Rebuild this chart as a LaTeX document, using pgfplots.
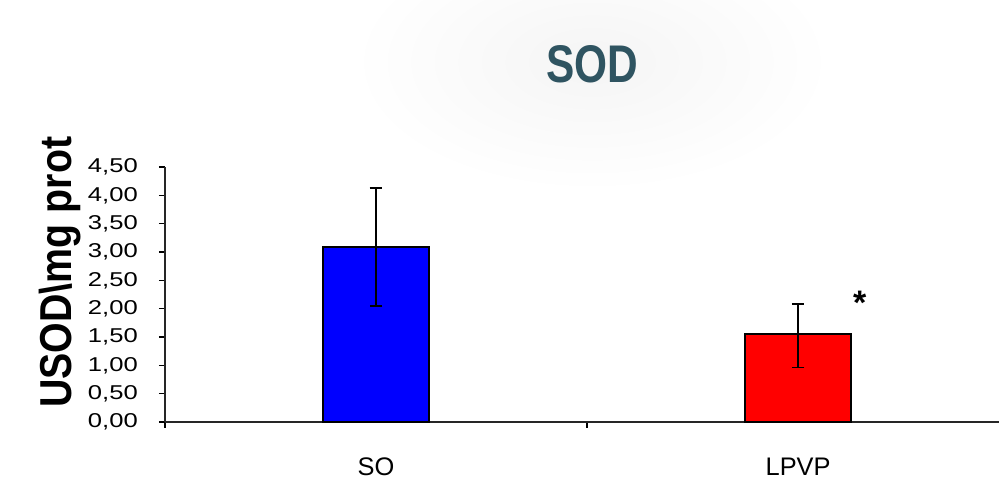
\documentclass[border=0pt]{standalone}
\usepackage{fontspec}
\setmainfont{Liberation Sans}
\newfontfamily\tickfont[FakeStretch=1.28]{Liberation Sans}
\newfontfamily\ylabfont[FakeStretch=0.88]{Liberation Sans}
\newfontfamily\titlefont[FakeStretch=0.80]{Liberation Sans}
\usepackage{pgfplots}
\pgfplotsset{compat=1.18}
\definecolor{titlecol}{RGB}{47,84,97}
\begin{document}
\begin{tikzpicture}[x=1pt,y=1pt]
\useasboundingbox (-165,-57) rectangle (834,422);
\shade[inner color=black!4, outer color=white] (427,360) ellipse (240 and 130);
\begin{axis}[
  at={(0,0)}, anchor=south west,
  width=834pt, height=255pt, scale only axis,
  xmin=-0.5, xmax=1.476, ymin=0, ymax=4.5,
  axis lines*=left,
  axis line style={line width=1.6pt, black!85},
  tick style={line width=1.6pt, black},
  tick align=outside, major tick length=6pt,
  ytick={0,0.5,1,1.5,2,2.5,3,3.5,4,4.5},
  /pgf/number format/.cd, fixed, fixed zerofill, precision=2, use comma, assume math mode=true, /pgfplots/.cd,
  yticklabel style={font=\tickfont\fontsize{20}{20}\selectfont, anchor=east, inner sep=0pt, xshift=-21pt},
  xtick={-0.5,0.5}, xticklabels={},
  extra x ticks={0,1}, extra x tick labels={SO,LPVP},
  extra x tick style={major tick length=0pt, tick style={draw=none},
    xticklabel style={font=\fontsize{25.4}{25.4}\selectfont, anchor=base, inner sep=0pt, yshift=-53pt}},
  clip=false,
]
\addplot[ybar, bar width=106pt, bar shift=0pt, fill=blue, draw=black, line width=1.8pt,
  error bars/.cd, y dir=both, y explicit,
  error bar style={line width=1.8pt, black},
  error mark options={rotate=90, mark size=6.3pt, line width=1.8pt, black}]
  coordinates {(0,3.09) +- (0,1.04)};
\addplot[ybar, bar width=106pt, bar shift=0pt, fill=red, draw=black, line width=1.8pt,
  error bars/.cd, y dir=both, y explicit,
  error bar style={line width=1.8pt, black},
  error mark options={rotate=90, mark size=6.3pt, line width=1.8pt, black}]
  coordinates {(1,1.55) += (0,0.53) -= (0,0.59)};
\node[anchor=base, inner sep=0pt, font=\fontsize{34}{34}\selectfont\bfseries] at (axis cs:1.146,1.9) {*};
\end{axis}
\node[anchor=base, inner sep=0pt, text=titlecol, font=\titlefont\fontsize{53}{53}\selectfont\bfseries] at (427,339) {SOD};
\node[rotate=90, anchor=base west, inner sep=0pt, font=\ylabfont\fontsize{44.7}{44.7}\selectfont\bfseries] at (-93,14) {USOD\textbackslash mg prot};
\end{tikzpicture}
\end{document}
